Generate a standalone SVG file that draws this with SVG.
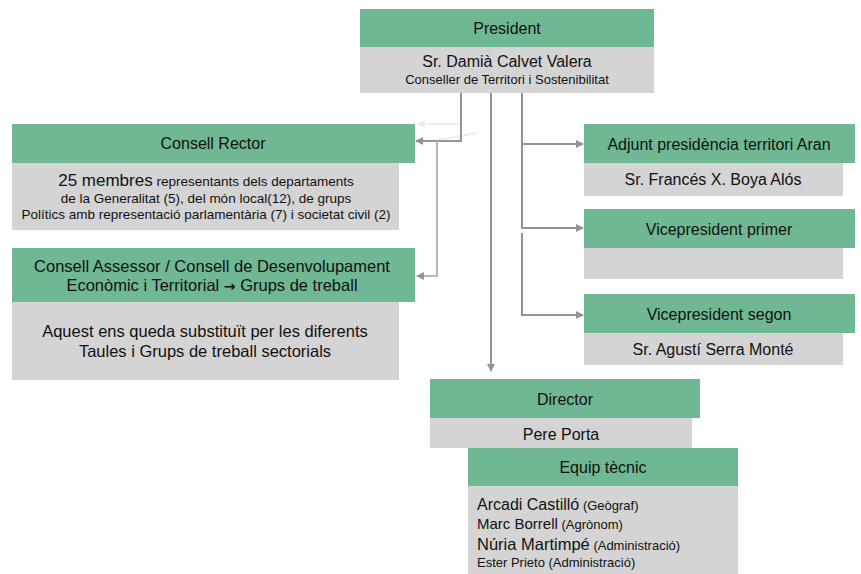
<svg xmlns="http://www.w3.org/2000/svg" width="861" height="574" viewBox="0 0 861 574">
<defs>
<style>
.hd{fill:#6fb893}
.bd{fill:#d4d4d4}
text{font-family:"Liberation Sans",Arial,sans-serif;fill:#111}
.t16{font-size:16px}
.t13{font-size:13px}
.t135{font-size:13.5px}
.t165{font-size:16.5px}
.t17{font-size:17px}
.c{text-anchor:middle}
.ln{fill:none;stroke:#949494;stroke-width:2}
.lt{fill:none;stroke:#b5b5b5;stroke-width:2}
.fa{fill:none;stroke:#eeeee2;stroke-width:2}
</style>
<marker id="ar" markerWidth="8" markerHeight="8" refX="7" refY="4" orient="auto" markerUnits="userSpaceOnUse">
<path d="M0,0 L8,4 L0,8 Z" fill="#949494"/>
</marker>
<marker id="arf" markerWidth="8" markerHeight="8" refX="7" refY="4" orient="auto" markerUnits="userSpaceOnUse">
<path d="M0,0 L8,4 L0,8 Z" fill="#eeeee2"/>
</marker>
</defs>
<rect width="861" height="574" fill="#fff"/>

<g id="connectors">
<polyline class="fa" points="461,124 418,124" marker-end="url(#arf)"/>
<line class="fa" x1="477" y1="133" x2="432" y2="141"/>
<polyline class="ln" points="461,93 461,141 416,141" marker-end="url(#ar)"/>
<polyline class="lt" points="437,141 437,276 417,276" marker-end="url(#ar)"/>
<line class="ln" x1="491" y1="93" x2="491" y2="371" marker-end="url(#ar)"/>
<polyline class="ln" points="522,93 522,228 583,228" marker-end="url(#ar)"/>
<line class="ln" x1="522" y1="144" x2="583" y2="144" marker-end="url(#ar)"/>
<polyline class="ln" points="522,233 522,315 583,315" marker-end="url(#ar)"/>
</g>

<g id="president">
<rect class="hd" x="360" y="9" width="294" height="38"/>
<rect class="bd" x="360" y="47" width="294" height="46"/>
<text class="t16 c" x="507" y="34">President</text>
<text class="t16 c" x="507" y="67">Sr. Damià Calvet Valera</text>
<text class="t13 c" x="507" y="84">Conseller de Territori i Sostenibilitat</text>
</g>

<g id="consell-rector">
<rect class="hd" x="12" y="124" width="403" height="39"/>
<rect class="bd" x="12" y="163" width="387" height="67"/>
<text class="t16 c" x="213" y="149">Consell Rector</text>
<text class="c" x="206" y="186"><tspan class="t17">25 membres</tspan><tspan class="t135"> representants dels departaments</tspan></text>
<text class="t135 c" x="206" y="203">de la Generalitat (5), del món local(12), de grups</text>
<text class="t135 c" x="206" y="219">Polítics amb representació  parlamentària (7) i societat civil (2)</text>
</g>

<g id="consell-assessor">
<rect class="hd" x="12" y="248" width="403" height="54"/>
<rect class="bd" x="12" y="302" width="387" height="78"/>
<text class="t165 c" x="212" y="272">Consell Assessor /  Consell de Desenvolupament</text>
<text class="t165 c" x="212" y="291">Econòmic  i Territorial <tspan style="font-family:'DejaVu Sans',sans-serif;font-weight:bold;font-size:14px">→</tspan> Grups de treball</text>
<text class="t165 c" x="205" y="337">Aquest ens queda substituït per les diferents</text>
<text class="t165 c" x="205" y="357">Taules i Grups de treball sectorials</text>
</g>

<g id="adjunt">
<rect class="hd" x="584" y="124" width="271" height="39"/>
<rect class="bd" x="584" y="163" width="259" height="33"/>
<text class="t16 c" x="719" y="150">Adjunt presidència territori Aran</text>
<text class="t16 c" x="713" y="185">Sr. Francés X. Boya Alós</text>
</g>

<g id="vicepresident-primer">
<rect class="hd" x="584" y="209" width="271" height="39"/>
<rect class="bd" x="584" y="248" width="259" height="31"/>
<text class="t16 c" x="719" y="235">Vicepresident primer</text>
</g>

<g id="vicepresident-segon">
<rect class="hd" x="584" y="294" width="271" height="39"/>
<rect class="bd" x="584" y="333" width="259" height="32"/>
<text class="t16 c" x="719" y="320">Vicepresident segon</text>
<text class="t16 c" x="713" y="355">Sr. Agustí Serra Monté</text>
</g>

<g id="director">
<rect class="hd" x="430" y="379" width="270" height="39"/>
<rect class="bd" x="430" y="418" width="262" height="30"/>
<text class="t16 c" x="565" y="405">Director</text>
<text class="t16 c" x="561" y="440">Pere Porta</text>
</g>

<g id="equip-tecnic">
<rect class="hd" x="468" y="448" width="270" height="38"/>
<rect class="bd" x="468" y="486" width="270" height="88"/>
<text class="t16 c" x="603" y="473">Equip tècnic</text>
<text x="477" y="510"><tspan class="t16">Arcadi Castilló</tspan><tspan class="t13"> (Geògraf)</tspan></text>
<text x="477" y="529"><tspan style="font-size:15px">Marc Borrell</tspan><tspan class="t13"> (Agrònom)</tspan></text>
<text x="477" y="550"><tspan class="t165">Núria Martimpé</tspan><tspan class="t13"> (Administració)</tspan></text>
<text class="t13" x="477" y="567">Ester Prieto (Administració)</text>
</g>
</svg>
